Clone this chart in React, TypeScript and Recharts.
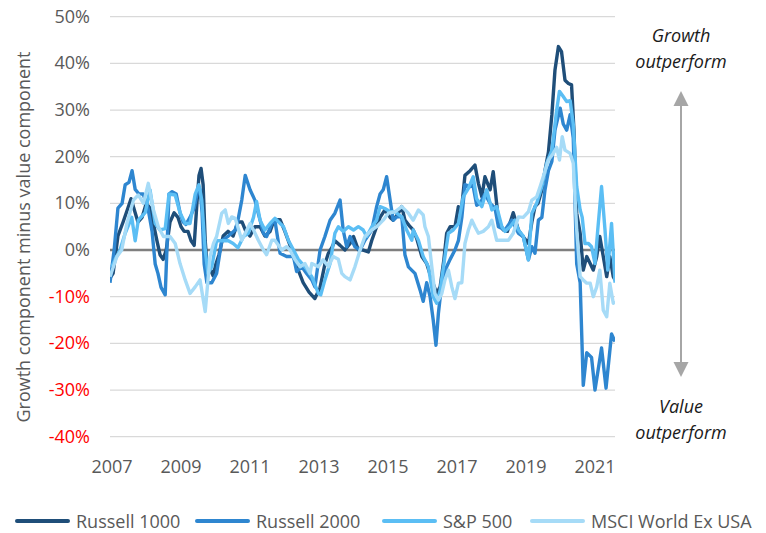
import React from 'react';
import { LineChart, Line, XAxis, YAxis, CartesianGrid, ReferenceLine } from 'recharts';

const FONT = "'Open Sans', sans-serif";

// x axis tick labels (years) and y axis ticks (percent)
const yearTicks = [2007, 2009, 2011, 2013, 2015, 2017, 2019, 2021];
const pctTicks = [-40, -30, -20, -10, 0, 10, 20, 30, 40, 50];

// [year, growth minus value %]
const russell1000: [number, number][] = [
  [2006.94, -6], [2007.03, -5], [2007.17, 3], [2007.32, 6], [2007.46, 9], [2007.55, 11], [2007.67, 8],
  [2007.75, 6], [2007.87, 7], [2007.99, 10], [2008.1, 9], [2008.19, 6], [2008.3, 2], [2008.39, -1],
  [2008.48, -2], [2008.57, 0], [2008.68, 6], [2008.8, 8], [2008.91, 7], [2009.0, 5], [2009.09, 4],
  [2009.2, 4], [2009.29, 2], [2009.38, 1], [2009.46, 10], [2009.52, 16], [2009.58, 17.5], [2009.64, 14],
  [2009.7, 2], [2009.75, -3], [2009.84, -4], [2009.93, -5.5], [2010.01, -3], [2010.1, -1], [2010.22, 3],
  [2010.36, 4], [2010.51, 3], [2010.65, 6], [2010.77, 6], [2010.88, 4], [2011.0, 3], [2011.14, 5],
  [2011.29, 5], [2011.43, 3], [2011.58, 4], [2011.7, 6.5], [2011.87, 6.5], [2012.01, 4], [2012.16, 1],
  [2012.33, -3], [2012.54, -7], [2012.71, -9], [2012.88, -10.4], [2013.03, -8], [2013.17, -3],
  [2013.27, -0.7], [2013.37, 0.5], [2013.46, 2], [2013.61, 1], [2013.75, 0], [2013.9, 1.4], [2014.0, 2.9],
  [2014.14, 0], [2014.28, 0], [2014.43, -0.4], [2014.53, 2.1], [2014.67, 5], [2014.77, 7], [2014.91, 8.6],
  [2015.06, 7], [2015.15, 6.4], [2015.3, 7.9], [2015.4, 9.3], [2015.49, 6.4], [2015.64, 5], [2015.73, 4.3],
  [2015.83, 2.5], [2015.98, -1.4], [2016.12, -2.9], [2016.27, -6.4], [2016.41, -9.3], [2016.51, -7.9],
  [2016.62, -2], [2016.7, 3.6], [2016.8, 5], [2016.94, 5], [2017.04, 9.3], [2017.12, 8], [2017.23, 16],
  [2017.38, 17], [2017.52, 18.2], [2017.62, 14.3], [2017.72, 11.4], [2017.81, 15.7], [2017.96, 12.9],
  [2018.05, 16.8], [2018.2, 6.4], [2018.34, 4.3], [2018.46, 4], [2018.63, 8], [2018.78, 4.3],
  [2018.88, 3.2], [2019.07, 1.4], [2019.17, 6], [2019.26, 9.3], [2019.35, 10], [2019.46, 12.9],
  [2019.55, 17], [2019.65, 21], [2019.75, 29], [2019.84, 38.6], [2019.94, 43.6], [2020.03, 42.5],
  [2020.13, 36.4], [2020.23, 35.7], [2020.32, 35.4], [2020.39, 25.7], [2020.47, 7.9], [2020.57, 3.6],
  [2020.66, -4.3], [2020.76, -1.4], [2020.86, -2.9], [2020.95, -4.3], [2021.05, -1.4], [2021.14, 2.9],
  [2021.24, -1.4], [2021.34, -5.7], [2021.43, -1.4], [2021.53, -5.7], [2021.58, -6.4],
];

const russell2000: [number, number][] = [
  [2006.94, -7], [2007.06, 0], [2007.17, 9], [2007.29, 10], [2007.38, 14], [2007.49, 14.5], [2007.58, 17],
  [2007.67, 13], [2007.78, 12], [2007.9, 12], [2008.04, 9], [2008.16, 4], [2008.25, -3], [2008.33, -5],
  [2008.42, -8], [2008.54, -9.6], [2008.59, 0], [2008.65, 12], [2008.74, 12.5], [2008.86, 12], [2008.97, 8],
  [2009.06, 6], [2009.14, 5.5], [2009.26, 7], [2009.38, 9], [2009.49, 13], [2009.55, 13], [2009.61, 8],
  [2009.67, -3], [2009.75, -7], [2009.89, -7], [2010.03, -5], [2010.18, 2], [2010.37, 3], [2010.57, 4.3],
  [2010.65, 6.4], [2010.76, 10.7], [2010.86, 16], [2011.0, 12.9], [2011.14, 10.7], [2011.29, 6.4],
  [2011.39, 3.6], [2011.48, 2.9], [2011.63, 5.7], [2011.72, 6.4], [2011.87, -0.7], [2012.06, -1.4],
  [2012.26, -1.4], [2012.35, -4.6], [2012.5, -3.6], [2012.64, -5], [2012.79, -6.4], [2012.88, -7.9],
  [2013.03, 0], [2013.17, 2.9], [2013.32, 6.4], [2013.46, 7.9], [2013.61, 10.7], [2013.7, 4.3],
  [2013.8, 0.7], [2013.9, 2.9], [2014.04, 0.7], [2014.19, 0], [2014.33, 2.1], [2014.53, 4.3], [2014.67, 9.3],
  [2014.77, 12], [2014.86, 12.9], [2014.96, 15.7], [2015.06, 10.7], [2015.15, 6.4], [2015.25, 7.1],
  [2015.4, 7.1], [2015.49, -1], [2015.59, -3.6], [2015.78, -5], [2015.93, -8.6], [2016.02, -11],
  [2016.12, -7], [2016.22, -10], [2016.31, -15], [2016.39, -20.4], [2016.46, -13.6], [2016.56, -7],
  [2016.7, -3.6], [2016.8, -2], [2016.94, 0], [2017.04, 2], [2017.14, 7], [2017.23, 14], [2017.38, 13.6],
  [2017.46, 14], [2017.57, 9.6], [2017.67, 10], [2017.81, 12], [2017.96, 10], [2018.1, 9], [2018.2, 5],
  [2018.39, 4.3], [2018.59, 6.4], [2018.78, 3.6], [2018.92, 2.9], [2019.07, -2.1], [2019.17, 0.7],
  [2019.26, -0.7], [2019.36, 6.4], [2019.46, 7], [2019.55, 12.9], [2019.65, 17], [2019.75, 19],
  [2019.84, 25.7], [2019.99, 30.4], [2020.08, 27], [2020.18, 25.7], [2020.28, 29], [2020.37, 24],
  [2020.47, -3], [2020.57, -7], [2020.66, -29], [2020.76, -22], [2020.9, -23], [2021.0, -30],
  [2021.19, -21], [2021.32, -29.6], [2021.48, -18], [2021.58, -19.6],
];

const sp500: [number, number][] = [
  [2006.99, -3.6], [2007.09, -2], [2007.23, 0], [2007.38, 3.6], [2007.57, 7], [2007.67, 2], [2007.76, 6.4],
  [2007.96, 8], [2008.1, 12.9], [2008.25, 5.7], [2008.39, 4.3], [2008.54, 4.6], [2008.65, 12],
  [2008.83, 11.8], [2008.97, 8], [2009.12, 5.7], [2009.26, 5.7], [2009.41, 12], [2009.52, 14],
  [2009.6, 10.7], [2009.7, 0], [2009.78, -5], [2009.89, -3.6], [2010.03, 2], [2010.22, 2], [2010.37, 2],
  [2010.51, 1.4], [2010.65, 0.5], [2010.81, 2.9], [2010.95, 3.6], [2011.1, 7], [2011.19, 10.4],
  [2011.29, 6.4], [2011.43, 4.3], [2011.58, 5.7], [2011.72, 6.8], [2011.97, 5], [2012.11, 2.1],
  [2012.26, 0], [2012.4, -2], [2012.59, -3.6], [2012.79, -5.7], [2012.98, -9.3], [2013.05, -9.6],
  [2013.17, -6.4], [2013.32, -2.9], [2013.46, 3.6], [2013.56, 5], [2013.7, 4], [2013.85, 5], [2014.0, 4.3],
  [2014.14, 5], [2014.28, 4.3], [2014.38, 2.9], [2014.53, 5], [2014.67, 6.4], [2014.77, 9.3],
  [2014.91, 8.9], [2015.06, 8.2], [2015.2, 8.2], [2015.4, 7.1], [2015.54, 4.3], [2015.69, 2.1],
  [2015.73, 4.3], [2015.88, 2.1], [2016.02, -1.4], [2016.17, -3.6], [2016.31, -10], [2016.41, -11.4],
  [2016.51, -8.6], [2016.65, -1.4], [2016.75, 3.6], [2016.89, 4.3], [2017.04, 5.7], [2017.18, 11.4],
  [2017.33, 13.2], [2017.47, 15.7], [2017.57, 11], [2017.72, 9.3], [2017.86, 12.9], [2018.01, 8.6],
  [2018.15, 9.3], [2018.3, 5], [2018.39, 4], [2018.54, 5], [2018.68, 6.4], [2018.78, 4.3], [2018.92, 3],
  [2019.07, -2.1], [2019.17, 7.9], [2019.31, 10], [2019.46, 13.6], [2019.6, 18.6], [2019.75, 21.4],
  [2019.89, 30], [2019.97, 34], [2020.08, 32.9], [2020.18, 31.8], [2020.28, 32], [2020.37, 27],
  [2020.47, 13.6], [2020.57, 8.6], [2020.63, 7], [2020.71, 1.4], [2020.81, 1.4], [2020.9, 0.7],
  [2021.0, -2.9], [2021.08, 4.3], [2021.19, 13.6], [2021.29, 4.3], [2021.37, -4.3], [2021.48, 5.7],
  [2021.58, -7],
];

const msciExUsa: [number, number][] = [
  [2006.94, -5.7], [2007.14, -1.4], [2007.28, 0], [2007.43, 5.7], [2007.62, 10.7], [2007.76, 11.8],
  [2007.91, 10], [2008.05, 14.3], [2008.2, 8.6], [2008.34, 5], [2008.49, 2.9], [2008.68, 2.9],
  [2008.83, 1.4], [2008.97, -2.9], [2009.12, -6.4], [2009.26, -9.3], [2009.41, -7.9], [2009.55, -6.4],
  [2009.7, -13.2], [2009.84, -1.4], [2009.94, 1.4], [2010.03, 2.9], [2010.18, 7.9], [2010.28, 8.6],
  [2010.37, 5.7], [2010.47, 7.1], [2010.57, 6.8], [2010.76, 2.1], [2010.86, 3.6], [2011.0, 5.7],
  [2011.1, 4.3], [2011.24, 2.1], [2011.39, 0], [2011.48, -1], [2011.63, 2.1], [2011.72, 2.1],
  [2011.92, 0], [2012.06, 0.7], [2012.16, 0], [2012.3, -2], [2012.45, -3.6], [2012.59, -2.9],
  [2012.74, -5], [2012.79, -2.9], [2012.98, -3.6], [2013.12, -2.1], [2013.27, -3.6], [2013.41, -1.4],
  [2013.56, -2], [2013.66, -5], [2013.75, -5.7], [2013.9, -6.4], [2014.04, -3.6], [2014.19, 0],
  [2014.33, 2.9], [2014.53, 4.3], [2014.67, 5], [2014.86, 6.4], [2015.01, 7.9], [2015.2, 8.2],
  [2015.4, 9.3], [2015.59, 7.9], [2015.73, 6.4], [2015.88, 8.6], [2016.02, 7.5], [2016.07, 5],
  [2016.17, 2.9], [2016.27, -3.6], [2016.36, -9.3], [2016.46, -10.7], [2016.56, -9.3], [2016.65, -6.4],
  [2016.75, -4.3], [2016.85, -7.9], [2016.94, -10.4], [2017.04, -7.1], [2017.14, -7], [2017.23, 1.4],
  [2017.33, 4.3], [2017.43, 6.4], [2017.52, 5], [2017.62, 3.6], [2017.76, 4], [2017.91, 5],
  [2018.01, 6.4], [2018.15, 2.1], [2018.3, 2.1], [2018.49, 2.1], [2018.63, 3.6], [2018.78, 7.1],
  [2018.92, 7], [2019.07, 8.2], [2019.17, 10.7], [2019.31, 11.4], [2019.41, 13.6], [2019.5, 15.7],
  [2019.65, 19.3], [2019.79, 20.7], [2019.89, 22], [2019.97, 19.3], [2020.05, 24.3], [2020.13, 21.4],
  [2020.28, 20.7], [2020.37, 18.6], [2020.47, 4.3], [2020.57, -5.7], [2020.66, -6.4], [2020.76, -7.1],
  [2020.86, -7.1], [2020.95, -10], [2021.05, -7.9], [2021.14, -4.3], [2021.24, -12.9], [2021.34, -14.3],
  [2021.43, -7.1], [2021.53, -11.4], [2021.58, -11],
];

const SERIES = [
  { name: 'Russell 1000', color: '#1F4E79', points: russell1000 },
  { name: 'Russell 2000', color: '#2E86D0', points: russell2000 },
  { name: 'S&P 500', color: '#5BBEF4', points: sp500 },
  { name: 'MSCI World Ex USA', color: '#A6DBF7', points: msciExUsa },
];

const LEGEND_X = [15, 195, 382, 530];

const YTick = (props: any) => {
  const { x, y, payload } = props;
  return (
    <text x={x} y={y} dy={6} textAnchor="end" fontSize={18} fontFamily={FONT}
      fill={payload.value < 0 ? '#FF0000' : '#595959'}>
      {`${payload.value}%`}
    </text>
  );
};

const XTick = (props: any) => {
  const { x, y, payload } = props;
  return (
    <text x={x} y={y} dy={13} textAnchor="middle" fontSize={18} fontFamily={FONT} fill="#595959">
      {payload.value}
    </text>
  );
};

export default function App() {
  return (
    <div style={{ position: 'absolute', left: 0, top: 0, width: 766, height: 533, background: '#fff' }}>
      <LineChart
        width={766}
        height={533}
        margin={{ top: 16.7, right: 151, left: 10, bottom: 66.3 }}
      >
        <CartesianGrid horizontal vertical={false} stroke="#D9D9D9" strokeWidth={1.3} />
        <XAxis
          dataKey="t"
          type="number"
          domain={[2006.94, 2021.58]}
          allowDataOverflow
          ticks={yearTicks}
          tick={<XTick />}
          tickLine={false}
          axisLine={false}
          tickSize={0}
          tickMargin={23}
          height={30}
        />
        <YAxis
          type="number"
          domain={[-40, 50]}
          ticks={pctTicks}
          tick={<YTick />}
          tickLine={false}
          axisLine={false}
          tickSize={0}
          tickMargin={20}
          width={100}
        />
        <ReferenceLine y={0} stroke="#7F7F7F" strokeWidth={2.5} />
        {SERIES.map(s => (
          <Line
            key={s.name}
            data={s.points.map(([t, v]) => ({ t, v }))}
            dataKey="v"
            name={s.name}
            type="linear"
            stroke={s.color}
            strokeWidth={3.4}
            strokeLinejoin="round"
            dot={false}
            isAnimationActive={false}
          />
        ))}
      </LineChart>

      {/* axis title, annotation text and arrow */}
      <svg width={766} height={533} style={{ position: 'absolute', left: 0, top: 0, pointerEvents: 'none' }}>
        <text
          transform="translate(30, 237) rotate(-90)"
          textAnchor="middle"
          fontSize={18}
          fontFamily={FONT}
          fill="#595959"
        >
          Growth component minus value component
        </text>
        <g fontFamily={FONT} fontSize={18} fontStyle="italic" fill="#1A1A1A" textAnchor="middle">
          <text x={681} y={42}>Growth</text>
          <text x={681} y={68}>outperform</text>
          <text x={681} y={413}>Value</text>
          <text x={681} y={439}>outperform</text>
        </g>
        <line x1={681} y1={104} x2={681} y2={364} stroke="#A6A6A6" strokeWidth={2} />
        <polygon points="681,91 673.5,106 688.5,106" fill="#A6A6A6" />
        <polygon points="681,377 673.5,362 688.5,362" fill="#A6A6A6" />
      </svg>

      {/* legend */}
      {SERIES.map((s, i) => (
        <div
          key={s.name}
          style={{
            position: 'absolute', left: LEGEND_X[i], top: 508, height: 26,
            display: 'flex', alignItems: 'center', fontFamily: FONT, fontSize: 18, color: '#595959',
            whiteSpace: 'nowrap',
          }}
        >
          <span style={{ display: 'inline-block', width: 55, height: 3.5, background: s.color, borderRadius: 2, marginRight: 6 }} />
          {s.name}
        </div>
      ))}
    </div>
  );
}
